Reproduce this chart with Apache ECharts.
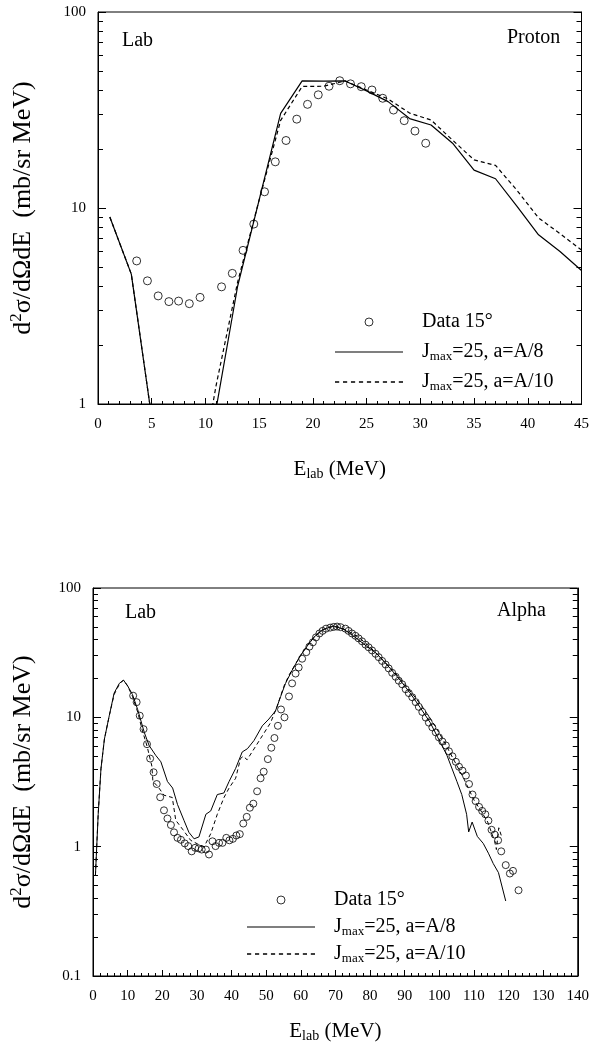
<!DOCTYPE html>
<html><head><meta charset="utf-8">
<script src="https://cdn.jsdelivr.net/npm/echarts@6/dist/echarts.min.js"></script>
<style>html,body{margin:0;padding:0;background:#fff}#c{width:592px;height:1046px}</style>
</head><body><div id="c"></div>
<script>
// ---------- Proton (top panel) ----------
const pDataE = [3.6,4.6,5.6,6.6,7.5,8.5,9.5,11.5,12.5,13.5,14.5,15.5,16.5,17.5,18.5,19.5,20.5,21.5,22.5,23.5,24.5,25.5,26.5,27.5,28.5,29.5,30.5];
const pDataV = [5.37,4.25,3.56,3.33,3.35,3.25,3.5,3.96,4.64,6.08,8.28,12.1,17.2,22.1,28.4,33.8,37.8,41.8,44.6,43.0,41.6,40.0,36.3,31.6,27.9,24.7,21.4];
const pCalcE = [1.1,3.1,5,7,9,11,13,15,17,19,21,23,25,27,29,31,33,35,37,39,41,43,45];
const pJ8V  = [9.0,4.6,0.85,0.3,0.3,0.95,4.0,11,30.4,44.5,44.4,44.5,39.6,34.9,28.6,26.5,21.4,15.6,14.1,10.2,7.3,6.0,4.8];
const pJ10V = [9.0,4.6,0.85,0.3,0.3,1.25,4.2,11,28,41.7,41.8,44.5,40,36,30.5,28.1,22.2,17.6,16.5,12.3,8.9,7.4,6.1];

// ---------- Alpha (bottom panel) ----------
const aDataE = [11.6,12.6,13.5,14.6,15.6,16.5,17.5,18.4,19.4,20.5,21.5,22.5,23.4,24.4,25.4,26.5,27.5,28.5,29.5,30.5,31.4,32.6,33.5,34.5,35.4,36.4,37.4,38.5,39.4,40.4,41.4,42.4,43.4,44.4,45.3,46.3,47.4,48.4,49.3,50.5,51.5,52.4,53.4,54.3,55.3,56.6,57.5,58.5,59.4,60.4,61.6,62.5,63.5,64.4,65.4,66.3,67.3,68.5,69.5,70.5,71.5,72.9,73.8,74.8,75.8,76.7,77.7,78.7,79.6,80.6,81.6,82.5,83.5,84.5,85.4,86.4,87.4,88.3,89.3,90.3,91.2,92.2,93.2,94.1,95.1,96.1,97.0,98.0,99.0,99.9,100.9,101.9,102.8,103.8,104.8,105.7,106.7,107.7,108.6,109.6,110.5,111.5,112.4,113.3,114.2,115.1,116.0,117.0,117.9,119.2,120.4,121.3,122.9];
const aDataV = [14.7,13.1,10.3,8.1,6.2,4.8,3.76,3.05,2.41,1.91,1.65,1.47,1.29,1.17,1.13,1.06,1.01,0.92,0.98,0.97,0.95,0.95,0.87,1.10,1.01,1.07,1.07,1.17,1.12,1.15,1.22,1.25,1.51,1.70,2.0,2.15,2.68,3.38,3.8,4.75,5.82,6.92,8.6,11.5,10.0,14.5,18.3,21.8,24.3,28.4,31.9,35.2,38,41.5,44.5,46.6,48.5,49.4,50,50.3,49.8,48.5,46.6,44.5,42.7,40.8,38.7,36.5,34.8,32.9,31.0,29.2,27.3,25.6,23.9,22.1,20.6,19.2,18.0,16.5,15.4,14.3,13.1,12.05,11.0,9.95,9.1,8.36,7.65,7.0,6.5,6.06,5.46,5.0,4.53,4.15,3.87,3.55,3.05,2.53,2.25,2.03,1.89,1.78,1.59,1.35,1.24,1.12,0.92,0.72,0.62,0.65,0.46];
const aJ8E = [0.7,1.5,2.3,3.3,4.7,6.1,7.6,8.8,10.0,11.4,12.9,14.8,16.2,18.1,19.6,21.5,23.0,24.4,26.3,27.7,29.2,30.6,32.6,34.0,35.9,37.8,39.3,41.2,43.1,44.6,46.5,48.9,50.8,52.7,54.2,55.6,57.5,59.9,62.3,64.2,66.6,69.5,72.4,75,78.2,82.0,85.9,88.7,91.6,94.5,97.4,100.3,102.2,105.1,106.5,107.9,108.5,109.5,111,112.7,114.2,115.6,117.1,119.2];
const aJ8V = [0.6,1.78,4.0,6.8,10.3,15.4,18.3,19.4,17.5,15.0,11.5,7.66,6.06,5.09,4.53,3.19,2.84,2.12,1.59,1.29,1.15,1.19,1.78,1.89,2.53,2.6,3.19,4.03,5.4,5.72,6.62,8.6,9.7,11.2,14.5,18.3,23.1,30,36.9,42.7,48,50.8,48,43,36.9,31,23.8,19.4,15.4,11.9,9.1,6.4,5.1,3.19,2.53,1.78,1.3,1.55,1.2,1.06,0.89,0.74,0.63,0.38];
const aJ10E = [0.7,1.5,2.3,3.3,4.7,6.1,7.6,8.8,10.0,11.4,12.9,14.2,15.6,17.0,17.3,18.8,20.5,22.9,23.9,26.0,28.2,30.2,32.1,34.0,35.9,37.8,39.3,41.2,42.6,43.4,44.5,46.5,48.9,51.3,53.2,55.1,56.6,59.9,62.8,65.7,68.5,71,74,77,80,83,86,89,92,95,98,101,104,107,110,112,114,116,116.5,117.2,118];
const aJ10V = [0.6,1.8,4.0,6.8,10.3,15,18,19.4,17.5,14.5,11.0,8.0,6.0,4.2,3.2,2.9,2.5,2.4,1.6,1.35,1.12,1.05,1.0,1.26,1.78,2.39,2.84,3.38,4.8,5.0,4.7,5.7,7.2,9.1,12.2,17.3,21.2,30,39,46.6,50,50,46,41,35,29,24,19.5,15.5,12.2,9.3,6.8,4.8,3.4,2.3,1.9,1.55,1.1,0.95,1.4,1.2];

// ---------- Axis ticks / labels ----------
const pXTicks = {min:0, max:45, step:5, minorSplit:5};
const aXTicks = {min:0, max:140, step:10, minorSplit:5};
const pYRange = [1, 100];
const aYRange = [0.1, 100];
const pYMinor = [2,3,4,5,6,7,8,9,20,30,40,50,60,70,80,90];
const aYMinor = [0.2,0.3,0.4,0.5,0.6,0.7,0.8,0.9,2,3,4,5,6,7,8,9,20,30,40,50,60,70,80,90];
const legendTexts = {data:'Data 15°', j8:'J{sub|max}=25, a=A/8', j10:'J{sub|max}=25, a=A/10'};

const FF = 'Liberation Serif';
const BLACK = '#000';

function pairs(xs, ys){ return xs.map((x,i)=>[x, ys[i]]); }

function xAxisCfg(grid, t, gap){
  return {
    gridIndex: grid, type:'value', min:t.min, max:t.max, interval:t.step,
    axisLine:{show:true, lineStyle:{color:BLACK, width:1}},
    axisTick:{show:true, inside:true, length:6, lineStyle:{color:BLACK, width:1}},
    minorTick:{show:true, splitNumber:t.minorSplit, length:3, lineStyle:{color:BLACK, width:1}},
    splitLine:{show:false},
    axisLabel:{margin:13, fontFamily:FF, fontSize:15, color:BLACK},
    name:'E{sub|lab} (MeV)', nameLocation:'middle', nameGap:gap,
    nameTextStyle:{fontFamily:FF, fontSize:21, color:BLACK, lineHeight:26,
      rich:{sub:{fontFamily:FF, fontSize:14, color:BLACK, lineHeight:26, padding:[10,0,0,0]}}}
  };
}
function yAxesCfg(grid, range, minor, gap){
  const base = {gridIndex:grid, type:'log', logBase:10, min:range[0], max:range[1], splitLine:{show:false}};
  return [
    Object.assign({}, base, {
      position:'left',
      axisLine:{show:true, lineStyle:{color:BLACK, width:1}},
      axisTick:{show:true, inside:true, length:8, lineStyle:{color:BLACK}},
      axisLabel:{margin:12, fontFamily:FF, fontSize:15, color:BLACK},
      name:'d{sup|2}σ/dΩdE  (mb/sr MeV)', nameLocation:'middle', nameRotate:90, nameGap:gap,
      nameTextStyle:{fontFamily:FF, fontSize:26, color:BLACK, lineHeight:30,
        rich:{sup:{fontFamily:FF, fontSize:17, color:BLACK, lineHeight:30, padding:[0,0,12,0]}}}
    }),
    Object.assign({}, base, {
      position:'left', axisLine:{show:false}, axisLabel:{show:false},
      axisTick:{show:true, inside:true, length:5, customValues:minor, lineStyle:{color:BLACK}}
    }),
    Object.assign({}, base, {
      position:'right', axisLine:{show:true, lineStyle:{color:BLACK}}, axisLabel:{show:false},
      axisTick:{show:true, inside:true, length:8, lineStyle:{color:BLACK}}
    }),
    Object.assign({}, base, {
      position:'right', axisLine:{show:false}, axisLabel:{show:false},
      axisTick:{show:true, inside:true, length:5, customValues:minor, lineStyle:{color:BLACK}}
    })
  ];
}

let dashPath = '';
for (let x = 0; x < 68; x += 7.6) dashPath += 'M' + x + ',0H' + Math.min(x + 4, 68) + 'V1.2H' + x + 'Z';
const solidIcon = 'path://M0,0H68V1.2H0Z';
const dashIcon = 'path://' + dashPath;

function legendCfg(prefix, left, top, gap){
  return {
    orient:'vertical', left:left, top:top, itemWidth:68, itemHeight:8, itemGap:gap,
    selectedMode:false,
    itemStyle:{borderWidth:1},
    data:[
      {name:prefix+'Data', icon:'circle'},
      {name:prefix+'J8', icon:solidIcon, itemStyle:{borderWidth:0, color:BLACK}},
      {name:prefix+'J10', icon:dashIcon, itemStyle:{borderWidth:0, color:BLACK}}
    ],
    formatter: n => n.endsWith('Data') ? legendTexts.data : (n.endsWith('J10') ? legendTexts.j10 : legendTexts.j8),
    textStyle:{fontFamily:FF, fontSize:20, color:BLACK, lineHeight:24, padding:[0,0,0,14],
      rich:{sub:{fontFamily:FF, fontSize:13, color:BLACK, lineHeight:24, padding:[10,0,0,0]}}}
  };
}

function dataSeries(name, xi, yi, xs, ys, size){
  return {name:name, type:'scatter', xAxisIndex:xi, yAxisIndex:yi, data:pairs(xs, ys),
    symbol:'circle', symbolSize:size, silent:true,
    itemStyle:{color:'rgba(0,0,0,0)', borderColor:BLACK, borderWidth:1}, z:3};
}
function lineSeries(name, xi, yi, xs, ys, dashed, w){
  return {name:name, type:'line', xAxisIndex:xi, yAxisIndex:yi, data:pairs(xs, ys),
    symbol:'none', showSymbol:false, silent:true, clip:true, color:BLACK,
    lineStyle:{color:BLACK, width:w, type: dashed ? [4,3] : 'solid'}, z:2};
}

const chart = echarts.init(document.getElementById('c'), null, {renderer:'canvas'});
const titleStyle = {fontFamily:FF, fontSize:20, fontWeight:'normal', color:BLACK};
chart.setOption({
  animation:false,
  backgroundColor:'#fff',
  textStyle:{fontFamily:FF},
  title:[
    {text:'Lab', left:122, top:31, textStyle:titleStyle, padding:0},
    {text:'Proton', left:507, top:28, textStyle:titleStyle, padding:0},
    {text:'Lab', left:125, top:603, textStyle:titleStyle, padding:0},
    {text:'Alpha', left:497, top:601, textStyle:titleStyle, padding:0}
  ],
  grid:[
    {left:97, top:12, width:490, height:392, show:true, borderColor:BLACK, borderWidth:1, backgroundColor:'rgba(0,0,0,0)'},
    {left:92, top:588, width:486, height:388, show:true, borderColor:BLACK, borderWidth:1, backgroundColor:'rgba(0,0,0,0)'}
  ],
  xAxis:[xAxisCfg(0, pXTicks, 52), xAxisCfg(1, aXTicks, 42)],
  yAxis:[].concat(yAxesCfg(0, pYRange, pYMinor, 60), yAxesCfg(1, aYRange, aYMinor, 55)),
  legend:[legendCfg('p', 330, 305, 6), legendCfg('a', 242, 883, 3)],
  series:[
    dataSeries('pData', 0, 0, pDataE, pDataV, 8),
    lineSeries('pJ8', 0, 0, pCalcE, pJ8V, false, 1.2),
    lineSeries('pJ10', 0, 0, pCalcE, pJ10V, true, 1.2),
    dataSeries('aData', 1, 4, aDataE, aDataV, 7),
    lineSeries('aJ8', 1, 4, aJ8E, aJ8V, false, 1),
    lineSeries('aJ10', 1, 4, aJ10E, aJ10V, true, 1)
  ]
});
</script></body></html>
